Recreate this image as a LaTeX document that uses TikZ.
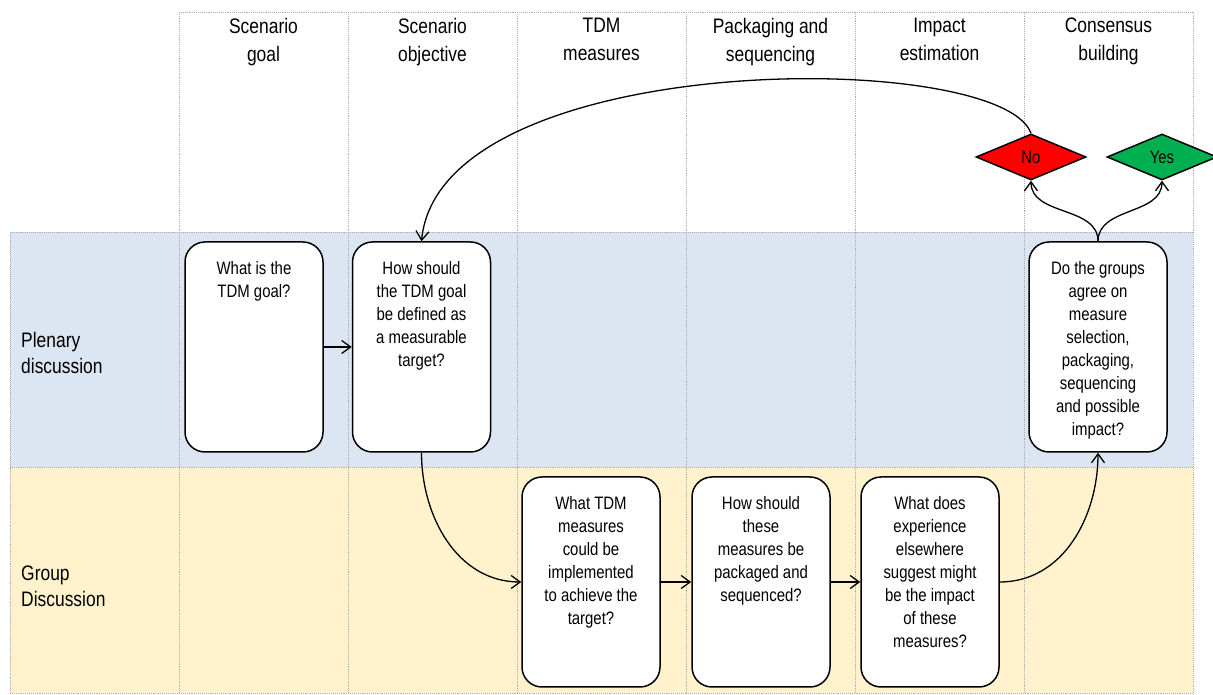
\documentclass[tikz,border=0pt]{standalone}
\usepackage{fontspec}
\setmainfont{Liberation Sans}[FakeStretch=0.83]
\usetikzlibrary{shapes.geometric,arrows.meta}
\definecolor{plenaryblue}{HTML}{DCE6F2}
\definecolor{groupyellow}{HTML}{FFF2CC}
\definecolor{nored}{HTML}{FF0000}
\definecolor{yesgreen}{HTML}{00B050}
\newcommand{\qtext}[1]{\parbox[t][194pt][t]{128pt}{\centering\rule{0pt}{25pt}#1}}
\tikzset{
  laneline/.style={densely dotted, draw=gray!65, line width=0.9pt},
  question/.style={draw, fill=white, line width=1.5pt, rounded corners=20pt,
    inner xsep=5pt, inner ysep=8pt, font=\fontsize{18}{23}\selectfont},
  decision/.style={diamond, draw, line width=1.5pt, minimum width=110pt,
    minimum height=46pt, inner sep=0pt, font=\fontsize{18}{22}\selectfont},
  header/.style={anchor=north, align=center, inner sep=0pt, font=\fontsize{21}{28}\selectfont},
  lanelabel/.style={anchor=north west, align=left, inner sep=0pt, font=\fontsize{21}{26}\selectfont},
  flow/.style={-{Straight Barb[length=9pt,width=13pt]}, line width=1.3pt}
}
\begin{document}
\begin{tikzpicture}[x=1pt,y=1pt]
  \useasboundingbox (0,0) rectangle (1213,695);
  \fill[plenaryblue] (10,228) rectangle (1193,463);
  \fill[groupyellow] (10,2) rectangle (1193,228);
  \draw[laneline] (179,683) -- (1193,683);
  \draw[laneline] (10,463) -- (1193,463);
  \draw[laneline] (10,228) -- (1193,228);
  \draw[laneline] (10,2) -- (1193,2);
  \draw[laneline] (10,463) -- (10,2);
  \draw[laneline] (179,683) -- (179,2);
  \draw[laneline] (348,683) -- (348,2);
  \draw[laneline] (517,683) -- (517,2);
  \draw[laneline] (686,683) -- (686,2);
  \draw[laneline] (855,683) -- (855,2);
  \draw[laneline] (1024,683) -- (1024,2);
  \draw[laneline] (1193,683) -- (1193,2);

  \node[header] (hgoal) at (263.5,677) {Scenario\\goal};
  \node[header] (hobjective) at (432.5,677) {Scenario\\objective};
  \node[header] (hmeasures) at (601.5,677) {TDM\\measures};
  \node[header] (hpackaging) at (770.5,677) {Packaging and\\sequencing};
  \node[header] (himpact) at (939.5,677) {Impact\\estimation};
  \node[header] (hconsensus) at (1108.5,677) {Consensus\\building};

  \node[lanelabel] (plenary) at (21,363) {Plenary\\discussion};
  \node[lanelabel] (group) at (21,129) {Group\\Discussion};

  \node[question] (goal) at (254,348) {\qtext{What is the\\TDM goal?}};
  \node[question] (objective) at (421.5,348) {\qtext{How should\\the TDM goal\\be defined as\\a measurable\\target?}};
  \node[question] (consensus) at (1098,348) {\qtext{Do the groups\\agree on\\measure\\selection,\\packaging,\\sequencing\\and possible\\impact?}};
  \node[question] (measures) at (591,113) {\qtext{What TDM\\measures\\could be\\implemented\\to achieve the\\target?}};
  \node[question] (packaging) at (761,113) {\qtext{How should\\these\\measures be\\packaged and\\sequenced?}};
  \node[question] (impact) at (930,113) {\qtext{What does\\experience\\elsewhere\\suggest might\\be the impact\\of these\\measures?}};

  \node[decision, fill=nored] (no) at (1031,538) {No};
  \node[decision, fill=yesgreen] (yes) at (1162,538) {Yes};

  \draw[flow] (goal.east) -- (objective.west);
  \draw[flow] (objective.south) to[out=-90,in=180] (measures.west);
  \draw[flow] (measures.east) -- (packaging.west);
  \draw[flow] (packaging.east) -- (impact.west);
  \draw[flow] (impact.east) to[out=0,in=-90] (consensus.south);
  \draw[flow] (consensus.north) to[out=90,in=-90] (no.south);
  \draw[flow] (consensus.north) to[out=90,in=-90] (yes.south);
  \draw[flow] (no.north) .. controls (1000,647) and (440,647) .. (objective.north);
\end{tikzpicture}
\end{document}
